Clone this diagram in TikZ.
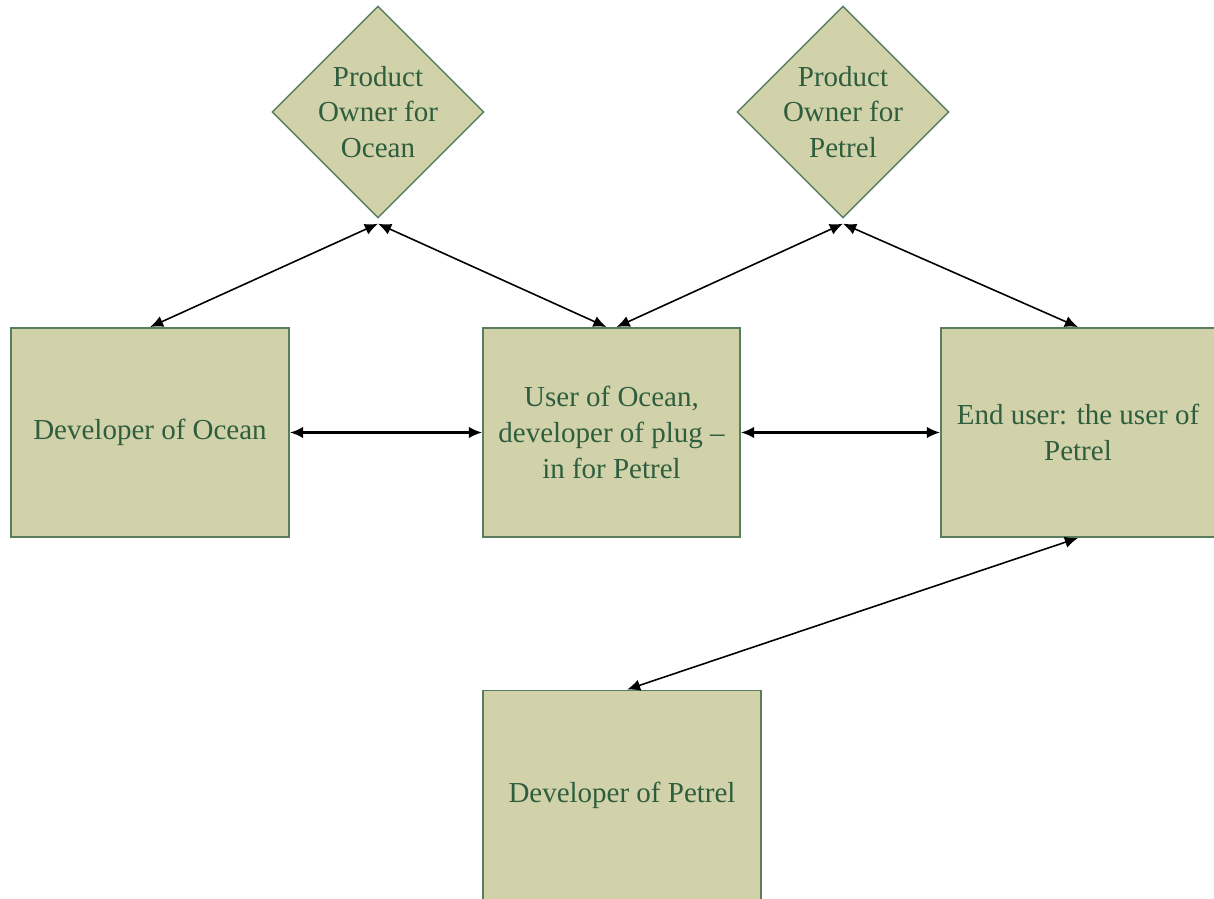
\documentclass[tikz,border=0pt]{standalone}
\usepackage{fontspec}
\setmainfont{Liberation Serif}
\usepackage{tikz}
\usetikzlibrary{shapes.geometric}
\usetikzlibrary{arrows.meta}
\definecolor{boxfill}{RGB}{210,210,170}
\definecolor{boxline}{RGB}{88,126,94}
\definecolor{boxtext}{RGB}{46,94,62}

\begin{document}
\begin{tikzpicture}[x=0.02cm, y=-0.02cm,
	role/.style={rectangle, draw=boxline, fill=boxfill, line width=1.1pt, text=boxtext, align=center,
		font=\fontsize{16.5}{20.4}\selectfont, minimum height=4.18cm, inner sep=0pt},
	owner/.style={diamond, draw=boxline, fill=boxfill, line width=0.8pt, text=boxtext, align=center,
		font=\fontsize{16.5}{20.4}\selectfont, minimum width=4.16cm, minimum height=4.14cm, inner sep=0pt},
	link/.style={line width=0.9pt, {Latex[length=7.5pt,width=6.5pt]}-{Latex[length=7.5pt,width=6.5pt]}},
	wide/.style={line width=1.2pt}]
			\useasboundingbox (0,0) rectangle (1214,899);
			
			\node[owner] (poocean) at (378,112) {Product\\Owner for\\Ocean};
			\node[owner] (popetrel) at (843,112) {Product\\Owner for\\Petrel};
			
			\node[role, minimum width=5.56cm] (devocean) at (150,432.5) {Developer of Ocean};
			\node[role, minimum width=5.14cm] (plugin) at (611.5,432.5) {User of Ocean,\\developer of plug --\\in for Petrel};
			\node[role, minimum width=5.48cm] (enduser) at (1078,432.5) {End user: the user of\\Petrel};
			\node[role, minimum width=5.56cm] (devpetrel) at (622,795) {Developer of Petrel};
			
			\draw[link] ([yshift=-0.1cm]poocean.south) -- (devocean.north);
			\draw[link] ([yshift=-0.1cm]poocean.south) -- ([xshift=-0.1cm]plugin.north);
			\draw[link] ([yshift=-0.1cm]popetrel.south) -- ([xshift=0.1cm]plugin.north);
			\draw[link] ([yshift=-0.1cm]popetrel.south) -- (enduser.north);
			
			\draw[link, wide] (devocean.east) -- (plugin.west);
			\draw[link, wide] (plugin.east) -- (enduser.west);
			
			\draw[link] (enduser.south) -- ([xshift=0.1cm]devpetrel.north);
			
		\end{tikzpicture}
\end{document}
